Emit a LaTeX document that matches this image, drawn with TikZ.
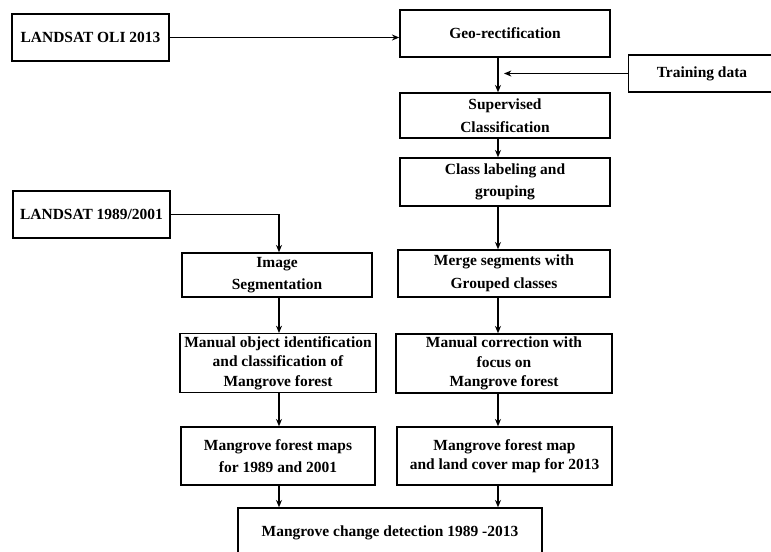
\documentclass[tikz,border=0pt]{standalone}
\usepackage{fontspec}
\setmainfont{Liberation Serif}
\usetikzlibrary{arrows.meta,positioning}

\begin{document}
\begin{tikzpicture}[x=0.75pt,y=-0.75pt,
  box/.style={rectangle,draw,line width=1.1pt,align=center,inner sep=2pt,
              font=\bfseries\fontsize{11.6}{17}\selectfont},
  tight/.style={font=\bfseries\fontsize{11.6}{14.6}\selectfont},
  arr/.style={-{Stealth[length=5.5pt,width=4.5pt]},line width=0.9pt}
]
  \clip (0,0) rectangle (771,551);

  % ---------------- left inputs ----------------
  \node[box,minimum width=117.75pt,minimum height=35.25pt] (oli) at (90.5,37.5)  {LANDSAT OLI 2013};
  \node[box,minimum width=117.75pt,minimum height=35.25pt] (l89) at (91.5,214.5) {LANDSAT 1989/2001};

  % ---------------- right column (2013) ----------------
  \node[box,minimum width=157.5pt,minimum height=35.25pt] (geo)   at (505,33.5)  {Geo-rectification};
  \node[box,minimum width=110pt,minimum height=27.75pt]   (train) at (702,73.5)  {Training data};
  \node[box,minimum width=157.5pt,minimum height=33.75pt] (sup)   at (505,115.5) {Supervised\\Classification};
  \node[box,minimum width=157.5pt,minimum height=36pt]    (cls)   at (505,182)   {Class labeling and\\grouping};
  \node[box,minimum width=159pt,minimum height=35.25pt]   (merge) at (504,273.5) {Merge segments with\\Grouped classes};
  \node[box,tight,minimum width=162pt,minimum height=44.25pt]   (corr)  at (504,363.5) {Manual correction with\\focus on\\Mangrove forest};
  \node[box,tight,minimum width=161.25pt,minimum height=43.5pt] (map13) at (504.5,456) {Mangrove forest map\\and land cover map for 2013};

  % ---------------- left column (1989/2001) ----------------
  \node[box,minimum width=142.5pt,minimum height=33pt]  (seg)  at (277,275) {Image\\Segmentation};
  \node[box,tight,minimum width=147pt,minimum height=43.5pt] (obj)  at (278,363) {Manual object identification\\and classification of\\Mangrove forest};
  \node[box,minimum width=145.5pt,minimum height=43.5pt] (maps) at (278,456) {Mangrove forest maps\\for 1989 and 2001};

  % ---------------- result ----------------
  \node[box,minimum width=228pt,minimum height=37.5pt] (det) at (390,533) {Mangrove change detection 1989 -2013};

  \coordinate (rc) at (498,0);
  \coordinate (lc) at (279,0);
  \coordinate (tip) at (504,0);

  \draw[arr] (oli.east) -- (oli.east -| geo.west);
  \draw[arr] (geo.south -| rc) -- (sup.north -| rc);
  \draw[arr] (train.west) -- (train.west -| tip);
  \draw[arr] (sup.south -| rc) -- (cls.north -| rc);
  \draw[arr] (cls.south -| rc) -- (merge.north -| rc);
  \draw[arr] (merge.south -| rc) -- (corr.north -| rc);
  \draw[arr] (corr.south -| rc) -- (map13.north -| rc);
  \draw[arr] (map13.south -| rc) -- (det.north -| rc);
  \draw[arr] (l89.east) -| (seg.north -| lc);
  \draw[arr] (seg.south -| lc) -- (obj.north -| lc);
  \draw[arr] (obj.south -| lc) -- (maps.north -| lc);
  \draw[arr] (maps.south -| lc) -- (det.north -| lc);
\end{tikzpicture}
\end{document}
